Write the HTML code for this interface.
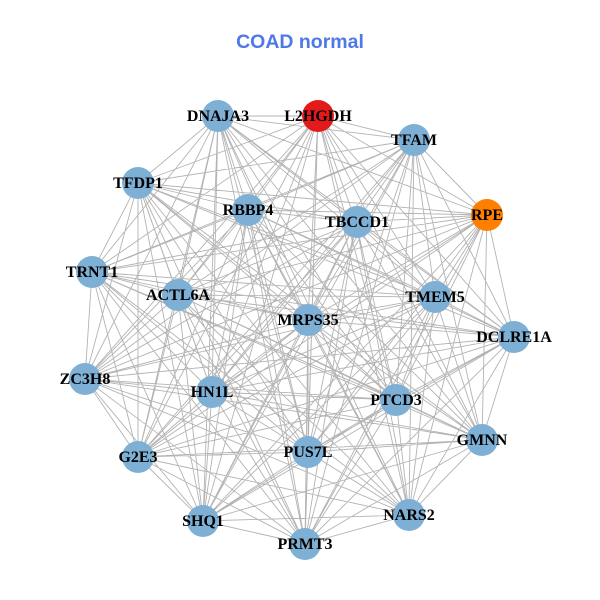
<!DOCTYPE html>
<html><head><meta charset="utf-8"><style>
html,body{margin:0;padding:0;background:#fff;width:600px;height:600px;overflow:hidden}
text{font-family:"Liberation Serif",serif;font-weight:bold;font-size:16px;fill:#000}
</style></head><body>
<svg width="600" height="600" viewBox="0 0 600 600" xmlns="http://www.w3.org/2000/svg">
<rect width="600" height="600" fill="#fff"/>
<text x="300" y="48" text-anchor="middle" style="font-family:'Liberation Sans',sans-serif;font-size:19.5px;fill:#4f78e8">COAD normal</text>
<path fill="none" stroke="#b3b3b3" stroke-width="0.9" d="
M218 116L318 116 218 116 414 140 218 116 138 183 218 116 248 210 218 116 356 222 218 116 487 215 218 116 92 272 218 116 178 295 218 116 435 297 218 116 308 320 218 116 514 337 218 116 85 379 218 116 212 392 218 116 396 400 218 116 482 440 218 116 138 457 218 116 308 452 218 116 409 515 218 116 203 521 218 116 305 544
M318 116L414 140 318 116 138 183 318 116 248 210 318 116 356 222 318 116 487 215 318 116 92 272 318 116 178 295 318 116 435 297 318 116 308 320 318 116 514 337 318 116 85 379 318 116 212 392 318 116 396 400 318 116 482 440 318 116 138 457 318 116 308 452 318 116 409 515 318 116 203 521 318 116 305 544
M414 140L138 183 414 140 248 210 414 140 356 222 414 140 487 215 414 140 92 272 414 140 178 295 414 140 435 297 414 140 308 320 414 140 514 337 414 140 85 379 414 140 212 392 414 140 396 400 414 140 482 440 414 140 138 457 414 140 308 452 414 140 409 515 414 140 203 521 414 140 305 544
M138 183L248 210 138 183 356 222 138 183 487 215 138 183 92 272 138 183 178 295 138 183 435 297 138 183 308 320 138 183 514 337 138 183 85 379 138 183 212 392 138 183 396 400 138 183 482 440 138 183 138 457 138 183 308 452 138 183 409 515 138 183 203 521 138 183 305 544
M248 210L356 222 248 210 487 215 248 210 92 272 248 210 178 295 248 210 435 297 248 210 308 320 248 210 514 337 248 210 85 379 248 210 212 392 248 210 396 400 248 210 482 440 248 210 138 457 248 210 308 452 248 210 409 515 248 210 203 521 248 210 305 544
M356 222L487 215 356 222 92 272 356 222 178 295 356 222 435 297 356 222 308 320 356 222 514 337 356 222 85 379 356 222 212 392 356 222 396 400 356 222 482 440 356 222 138 457 356 222 308 452 356 222 409 515 356 222 203 521 356 222 305 544
M487 215L92 272 487 215 178 295 487 215 435 297 487 215 308 320 487 215 514 337 487 215 85 379 487 215 212 392 487 215 396 400 487 215 482 440 487 215 138 457 487 215 308 452 487 215 409 515 487 215 203 521 487 215 305 544
M92 272L178 295 92 272 435 297 92 272 308 320 92 272 514 337 92 272 85 379 92 272 212 392 92 272 396 400 92 272 482 440 92 272 138 457 92 272 308 452 92 272 409 515 92 272 203 521 92 272 305 544
M178 295L435 297 178 295 308 320 178 295 514 337 178 295 85 379 178 295 212 392 178 295 396 400 178 295 482 440 178 295 138 457 178 295 308 452 178 295 409 515 178 295 203 521 178 295 305 544
M435 297L308 320 435 297 514 337 435 297 85 379 435 297 212 392 435 297 396 400 435 297 482 440 435 297 138 457 435 297 308 452 435 297 409 515 435 297 203 521 435 297 305 544
M308 320L514 337 308 320 85 379 308 320 212 392 308 320 396 400 308 320 482 440 308 320 138 457 308 320 308 452 308 320 409 515 308 320 203 521 308 320 305 544
M514 337L85 379 514 337 212 392 514 337 396 400 514 337 482 440 514 337 138 457 514 337 308 452 514 337 409 515 514 337 203 521 514 337 305 544
M85 379L212 392 85 379 396 400 85 379 482 440 85 379 138 457 85 379 308 452 85 379 409 515 85 379 203 521 85 379 305 544
M212 392L396 400 212 392 482 440 212 392 138 457 212 392 308 452 212 392 409 515 212 392 203 521 212 392 305 544
M396 400L482 440 396 400 138 457 396 400 308 452 396 400 409 515 396 400 203 521 396 400 305 544
M482 440L138 457 482 440 308 452 482 440 409 515 482 440 203 521 482 440 305 544
M138 457L308 452 138 457 409 515 138 457 203 521 138 457 305 544
M308 452L409 515 308 452 203 521 308 452 305 544
M409 515L203 521 409 515 305 544
M203 521L305 544"/>
<g fill="#7eb0d5">
<circle cx="218" cy="116" r="16"/>
<circle cx="414" cy="140" r="16"/>
<circle cx="138" cy="183" r="16"/>
<circle cx="248" cy="210" r="16"/>
<circle cx="357" cy="222" r="16"/>
<circle cx="92" cy="272" r="16"/>
<circle cx="178" cy="295" r="16"/>
<circle cx="435" cy="297" r="16"/>
<circle cx="308" cy="320" r="16"/>
<circle cx="514" cy="337" r="16"/>
<circle cx="85" cy="379" r="16"/>
<circle cx="212" cy="392" r="16"/>
<circle cx="396" cy="400" r="16"/>
<circle cx="482" cy="440" r="16"/>
<circle cx="138" cy="457" r="16"/>
<circle cx="308" cy="452" r="16"/>
<circle cx="409" cy="515" r="16"/>
<circle cx="203" cy="521" r="16"/>
<circle cx="305" cy="544" r="16"/>
</g>
<circle cx="318" cy="116" r="16" fill="#e31a1c"/>
<circle cx="487" cy="215" r="16" fill="#ff7f00"/>
<g text-anchor="middle">
<text x="218" y="121">DNAJA3</text>
<text x="318" y="121">L2HGDH</text>
<text x="414" y="145">TFAM</text>
<text x="138" y="188">TFDP1</text>
<text x="248" y="215">RBBP4</text>
<text x="357" y="227">TBCCD1</text>
<text x="487" y="220">RPE</text>
<text x="92" y="277">TRNT1</text>
<text x="178" y="300">ACTL6A</text>
<text x="435" y="302">TMEM5</text>
<text x="308" y="325">MRPS35</text>
<text x="514" y="342">DCLRE1A</text>
<text x="85" y="384">ZC3H8</text>
<text x="212" y="397">HN1L</text>
<text x="396" y="405">PTCD3</text>
<text x="482" y="445">GMNN</text>
<text x="138" y="462">G2E3</text>
<text x="308" y="457">PUS7L</text>
<text x="409" y="520">NARS2</text>
<text x="203" y="526">SHQ1</text>
<text x="305" y="549">PRMT3</text>
</g>
</svg>
</body></html>
